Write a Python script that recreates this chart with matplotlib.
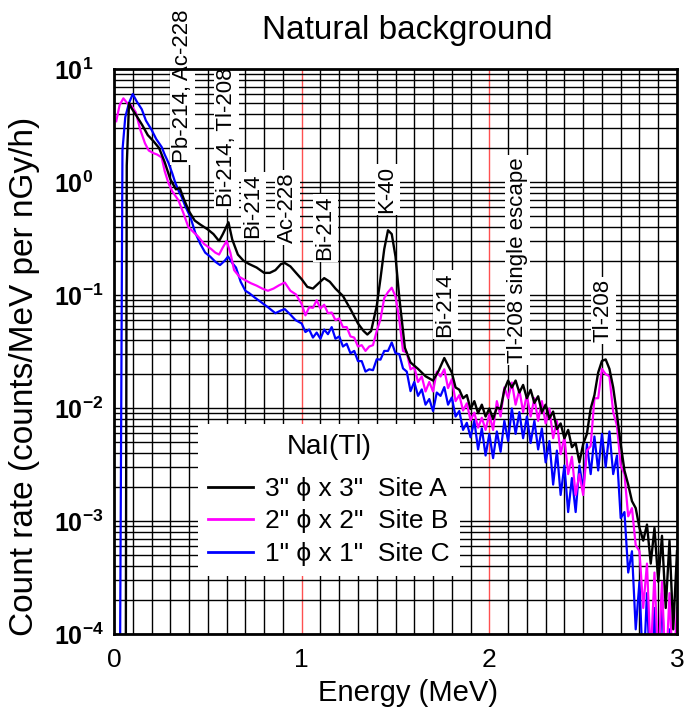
import matplotlib
matplotlib.use("Agg")
import matplotlib.pyplot as plt
from matplotlib.ticker import FixedLocator, FuncFormatter, NullFormatter
import numpy as np

plt.rcParams["font.family"] = ["Liberation Sans", "DejaVu Sans"]
plt.rcParams["mathtext.fontset"] = "custom"
plt.rcParams["mathtext.rm"] = "Liberation Sans"
plt.rcParams["mathtext.bf"] = "Liberation Sans:bold"

# --- datos (E en MeV, tasa en counts/MeV per nGy/h) ---
e_a = [0.062, 0.068, 0.080, 0.09, 0.12, 0.15, 0.18, 0.21, 0.24, 0.27, 0.30, 0.33, 0.35,
       0.37, 0.40, 0.43, 0.46, 0.50, 0.53, 0.56, 0.58, 0.61, 0.63, 0.66, 0.69, 0.72,
       0.76, 0.80, 0.83, 0.86, 0.89, 0.91, 0.94, 0.97, 1.00, 1.03, 1.06, 1.09, 1.12,
       1.15, 1.18, 1.22, 1.26, 1.30, 1.33, 1.35, 1.37, 1.40, 1.42, 1.44, 1.46, 1.48,
       1.50, 1.52, 1.55, 1.58, 1.62, 1.66, 1.70, 1.73, 1.76, 1.78,
       1.80, 1.82, 1.84, 1.86, 1.88, 1.90, 1.92, 1.94, 1.96, 1.98, 2.00, 2.02, 2.04,
       2.06, 2.08, 2.10, 2.12, 2.14, 2.16, 2.18, 2.20, 2.22, 2.24, 2.26, 2.28, 2.30,
       2.32, 2.34, 2.36, 2.38, 2.40, 2.42, 2.44, 2.46, 2.48, 2.50, 2.52, 2.54, 2.56,
       2.58, 2.60, 2.62, 2.64, 2.66, 2.68, 2.70, 2.72, 2.74, 2.76, 2.78, 2.80, 2.82,
       2.84, 2.86, 2.88, 2.90, 2.92, 2.94, 2.96, 2.98, 3.00]
r_a = [1e-5, 1.4, 5.0, 4.6, 3.85, 3.2, 2.6, 2.3, 2.0, 1.5, 1.06, 0.86, 0.89,
       0.72, 0.55, 0.456, 0.42, 0.38, 0.346, 0.30, 0.346, 0.44, 0.31, 0.228, 0.201, 0.188,
       0.175, 0.157, 0.157, 0.166, 0.188, 0.192, 0.179, 0.157, 0.138, 0.118, 0.114, 0.127, 0.141,
       0.131, 0.114, 0.098, 0.075, 0.056, 0.048, 0.0447, 0.048, 0.080, 0.140, 0.255, 0.374, 0.346,
       0.219, 0.096, 0.0341, 0.0253, 0.0222, 0.0191, 0.0175, 0.0214, 0.0277, 0.0238,
       0.0206, 0.0152, 0.0145, 0.0122, 0.013, 0.0098, 0.0115, 0.0090, 0.0107, 0.0084, 0.0099, 0.0080, 0.0101,
       0.0098, 0.0145, 0.0175, 0.0152, 0.0175, 0.0137, 0.016, 0.0122, 0.0145, 0.0111, 0.0127, 0.0092, 0.0107,
       0.0081, 0.0093, 0.0065, 0.0073, 0.0054, 0.0064, 0.0045, 0.0049, 0.0033, 0.0048, 0.0059, 0.0099, 0.013,
       0.0206, 0.0261, 0.0269, 0.0222, 0.0152, 0.0088, 0.0048, 0.0028, 0.0021, 0.0015, 0.0013, 0.00087, 0.00067,
       0.00093, 0.00042, 0.00087, 0.00029, 0.00074, 0.00017, 0.00067, 0.00011, 0.00054]

e_b = [0.012, 0.03, 0.05, 0.07, 0.09, 0.116, 0.14, 0.165, 0.185, 0.21, 0.23, 0.254, 0.27,
       0.29, 0.31, 0.343, 0.37, 0.396, 0.42, 0.449, 0.48, 0.518, 0.54, 0.56, 0.58, 0.60,
       0.62, 0.64, 0.67, 0.70, 0.73, 0.76, 0.79, 0.82, 0.85, 0.88, 0.91, 0.94, 0.97,
       1.00, 1.02, 1.04, 1.06, 1.08, 1.10, 1.12, 1.14, 1.16, 1.18, 1.20, 1.22, 1.24,
       1.26, 1.28, 1.30, 1.32, 1.34, 1.36, 1.38, 1.40, 1.42, 1.44, 1.46, 1.48, 1.50,
       1.52, 1.54, 1.56, 1.58, 1.60, 1.62, 1.64, 1.66, 1.68, 1.70, 1.72, 1.74, 1.76,
       1.78, 1.80, 1.82, 1.84, 1.86, 1.88, 1.90, 1.92, 1.94, 1.96, 1.98, 2.00, 2.02,
       2.04, 2.06, 2.08, 2.10, 2.12, 2.14, 2.16, 2.18, 2.20, 2.22, 2.24, 2.26, 2.28,
       2.30, 2.32, 2.34, 2.36, 2.38, 2.40, 2.42, 2.44, 2.46, 2.48, 2.50, 2.52, 2.54,
       2.56, 2.58, 2.60, 2.62, 2.64, 2.66, 2.68, 2.70, 2.72, 2.74, 2.76, 2.78, 2.80,
       2.82, 2.84, 2.86, 2.88, 2.90, 2.92, 2.94, 2.96, 2.98, 3.00]
r_b = [3.45, 4.8, 5.5, 5.0, 4.8, 4.15, 2.9, 2.2, 1.9, 1.8, 1.75, 1.65, 1.25,
       0.98, 0.83, 0.69, 0.53, 0.40, 0.365, 0.328, 0.283, 0.255, 0.237, 0.228, 0.264, 0.30,
       0.237, 0.166, 0.144, 0.135, 0.127, 0.121, 0.114, 0.109, 0.114, 0.122, 0.129, 0.109, 0.101,
       0.083, 0.066, 0.078, 0.077, 0.090, 0.076, 0.082, 0.069, 0.070, 0.060, 0.062, 0.052, 0.052,
       0.043, 0.042, 0.035, 0.036, 0.032, 0.035, 0.036, 0.048, 0.061, 0.094, 0.106, 0.116, 0.097,
       0.061, 0.032, 0.031, 0.022, 0.023, 0.017, 0.019, 0.014, 0.017, 0.014, 0.021, 0.019, 0.022,
       0.015, 0.018, 0.0115, 0.013, 0.0095, 0.011, 0.0078, 0.0091, 0.0067, 0.0082, 0.0064, 0.0088, 0.0064,
       0.0115, 0.0084, 0.0152, 0.0122, 0.0168, 0.0107, 0.0145, 0.0092, 0.013, 0.0084, 0.0122, 0.0077, 0.0115,
       0.0073, 0.0099, 0.0054, 0.0077, 0.0039, 0.0055, 0.0026, 0.0037, 0.0017, 0.0026, 0.0017, 0.0042, 0.0046,
       0.0122, 0.0122, 0.0222, 0.0199, 0.0191, 0.0092, 0.0070, 0.0031, 0.0026, 0.0011, 0.0013, 0.00061, 0.00054,
       0.00017, 0.00042, 0.00006, 0.00035, 0.00005, 0.00029, 0.00004, 0.00023, 0.00004, 0.00017]

e_c = [0.030, 0.045, 0.06, 0.08, 0.10, 0.12, 0.148, 0.17, 0.20, 0.225, 0.254, 0.27, 0.29,
       0.31, 0.327, 0.345, 0.36, 0.38, 0.407, 0.433, 0.46, 0.486, 0.512, 0.54, 0.565, 0.59,
       0.608, 0.63, 0.65, 0.675, 0.70, 0.72, 0.75, 0.79, 0.82, 0.86, 0.89, 0.91, 0.94, 0.967,
       1.00, 1.02, 1.04, 1.06, 1.08, 1.10, 1.12, 1.14, 1.16, 1.18, 1.20, 1.22, 1.24,
       1.26, 1.28, 1.30, 1.32, 1.34, 1.36, 1.38, 1.40, 1.42, 1.44, 1.46, 1.48, 1.50,
       1.52, 1.54, 1.56, 1.58, 1.60, 1.62, 1.64, 1.66, 1.68, 1.70, 1.72, 1.74, 1.76,
       1.78, 1.80, 1.82, 1.84, 1.86, 1.88, 1.90, 1.92, 1.94, 1.96, 1.98, 2.00, 2.02,
       2.04, 2.06, 2.08, 2.10, 2.12, 2.14, 2.16, 2.18, 2.20, 2.22, 2.24, 2.26, 2.28,
       2.30, 2.32, 2.34, 2.36, 2.38, 2.40, 2.42, 2.44, 2.46, 2.48, 2.50, 2.52, 2.54,
       2.56, 2.58, 2.60, 2.62, 2.64, 2.66, 2.68, 2.70, 2.72, 2.74, 2.76, 2.78, 2.80,
       2.82, 2.84, 2.86, 2.88, 2.90, 2.92, 2.94, 2.96, 2.98]
r_c = [1e-5, 1.9, 3.75, 5.0, 6.0, 5.2, 4.4, 3.5, 2.9, 2.4, 2.04, 1.75, 1.48,
       1.2, 0.98, 0.83, 0.74, 0.61, 0.49, 0.355, 0.283, 0.237, 0.219, 0.197, 0.184, 0.201,
       0.219, 0.192, 0.175, 0.131, 0.109, 0.104, 0.095, 0.085, 0.078, 0.069, 0.073, 0.075, 0.067, 0.060,
       0.056, 0.047, 0.0495, 0.042, 0.0465, 0.041, 0.0495, 0.045, 0.052, 0.041, 0.043, 0.035, 0.037,
       0.0305, 0.032, 0.026, 0.026, 0.021, 0.022, 0.0216, 0.027, 0.0268, 0.032, 0.032, 0.038, 0.0305,
       0.030, 0.0224, 0.021, 0.0141, 0.017, 0.0128, 0.0146, 0.0107, 0.012, 0.0094, 0.0137, 0.0128, 0.0153,
       0.0107, 0.0124, 0.0084, 0.0094, 0.0064, 0.0074, 0.0055, 0.0077, 0.0043, 0.0066, 0.0038, 0.0059, 0.0036,
       0.0062, 0.0041, 0.0077, 0.0051, 0.0099, 0.0059, 0.0092, 0.0054, 0.0084, 0.0049, 0.0077, 0.0043, 0.0066,
       0.0033, 0.0051, 0.0021, 0.0042, 0.0017, 0.0031, 0.0012, 0.0024, 0.0012, 0.0031, 0.0019, 0.0048, 0.0026,
       0.0056, 0.0028, 0.0059, 0.0030, 0.0062, 0.0026, 0.0038, 0.00106, 0.0012, 0.00035, 0.00054, 0.00011, 0.00029,
       0.00004, 0.00023, 0.00003, 0.00017, 0.00003, 0.00023, 0.00003, 0.00011, 0.00003]

etiquetas = ['3" \u03d5 x 3"  Site A', '2" \u03d5 x 2"  Site B', '1" \u03d5 x 1"  Site C']

# picos: energía del texto, tasa en el extremo inferior del texto, nombre
picos_e = [0.365, 0.602, 0.741, 0.922, 1.125, 1.455, 1.764, 2.148, 2.607]
picos_y = [1.47, 0.60, 0.319, 0.288, 0.204, 0.532, 0.0425, 0.0251, 0.0384]
picos_txt = ["Pb-214, Ac-228", "Bi-214, Tl-208", "Bi-214", "Ac-228", "Bi-214",
             "K-40", "Bi-214", "Tl-208 single escape", "Tl-208"]

W, H = 686, 720
fig = plt.figure(figsize=(W / 100, H / 100), dpi=100)
ax = fig.add_axes([114 / W, 1 - 634 / H, 563 / W, 565 / H])
ax.set_yscale("log")
ax.set_xlim(0, 3)
ax.set_ylim(1e-4, 1e1)

# rejilla: cada 0.1 MeV en x, 1..9 por década en y
for x in np.arange(1, 30) / 10:
    rojo = abs(x - 1) < 1e-6 or abs(x - 2) < 1e-6
    ax.axvline(x, color="#ff5050" if rojo else "black", lw=1.0, zorder=1)
for dec in range(-4, 1):
    for m in range(1, 10):
        ax.axhline(m * 10.0 ** dec, color="black", lw=1.0, zorder=1)

ax.plot(e_c, r_c, color="#0000ff", lw=1.6, zorder=3, label=etiquetas[2])
ax.plot(e_b, r_b, color="#ff00ff", lw=1.6, zorder=4, label=etiquetas[1])
ax.plot(e_a, r_a, color="black", lw=1.7, zorder=5, label=etiquetas[0])

for xe, ye, t in zip(picos_e, picos_y, picos_txt):
    ax.text(xe, ye, t, rotation=90, ha="center", va="bottom", fontsize=16,
            zorder=6, clip_on=False,
            bbox=dict(facecolor="white", edgecolor="none", pad=1.5))

ax.yaxis.set_major_locator(FixedLocator([1e-4, 1e-3, 1e-2, 1e-1, 1e0, 1e1]))
ax.yaxis.set_minor_formatter(NullFormatter())
ax.yaxis.set_major_formatter(FuncFormatter(
    lambda v, p: r"$\mathbf{10^{%d}}$" % round(np.log10(v))))
ax.set_xticks([0, 1, 2, 3])
ax.tick_params(which="both", length=0)
ax.tick_params(axis="x", labelsize=19, pad=10)
ax.tick_params(axis="y", labelsize=18, pad=43)
for lab in ax.get_yticklabels():
    lab.set_horizontalalignment("left")
for s in ax.spines.values():
    s.set_linewidth(2)
    s.set_zorder(7)

fig.text(408 / W, 1 - 693 / H, "Energy (MeV)", ha="center", va="center", fontsize=21)
fig.text(25 / W, 1 - 376 / H, "Count rate (counts/MeV per nGy/h)", rotation=90,
         ha="center", va="center", fontsize=24)
fig.text(407 / W, 1 - 31 / H, "Natural background", ha="center", va="center",
         fontsize=24)

h, l = ax.get_legend_handles_labels()
leg = ax.legend(h[::-1], l[::-1], title="NaI(Tl)", loc="upper left",
                bbox_to_anchor=(0.149, 0.372), fontsize=19, title_fontsize=20,
                frameon=True, fancybox=False, framealpha=1, edgecolor="none",
                handlelength=1.7, handletextpad=0.45, labelspacing=0.32,
                borderpad=0.4, borderaxespad=0)
leg._legend_box.sep = 12
leg.set_zorder(8)
for ln in leg.get_lines():
    ln.set_linewidth(2)

fig.savefig("out.png", dpi=100)
